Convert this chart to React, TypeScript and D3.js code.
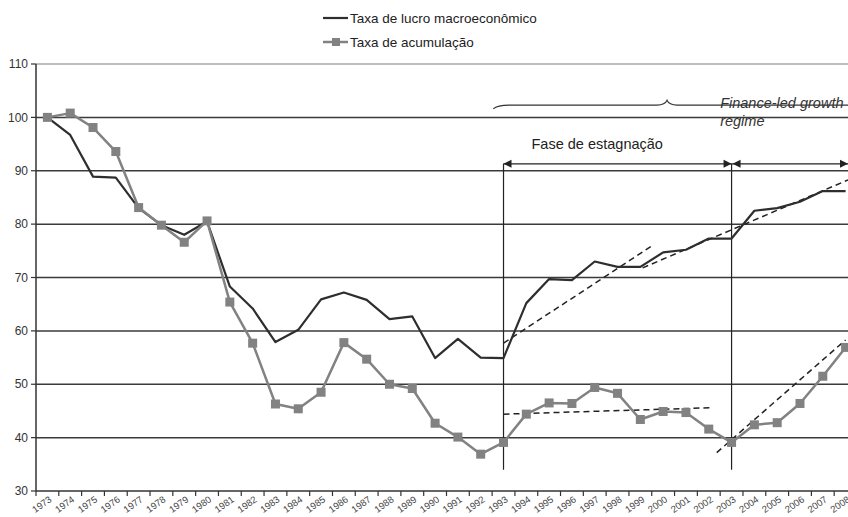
import * as React from 'react';
import { useEffect, useRef } from 'react';
import * as d3 from 'd3';

const years = [
  1973, 1974, 1975, 1976, 1977, 1978, 1979, 1980, 1981, 1982, 1983, 1984,
  1985, 1986, 1987, 1988, 1989, 1990, 1991, 1992, 1993, 1994, 1995, 1996,
  1997, 1998, 1999, 2000, 2001, 2002, 2003, 2004, 2005, 2006, 2007, 2008,
];

// Taxa de lucro macroeconômico (1973 = 100)
const profitRate = [
  100, 96.7, 88.9, 88.7, 83.0, 79.8, 78.0, 80.5, 68.3, 64.2, 57.9, 60.2,
  65.9, 67.2, 65.8, 62.2, 62.7, 54.9, 58.5, 55.0, 54.9, 65.2, 69.7, 69.5,
  73.0, 72.0, 72.0, 74.7, 75.2, 77.3, 77.3, 82.5, 83.0, 84.2, 86.2, 86.2,
];

// Taxa de acumulação (1973 = 100)
const accumRate = [
  100, 100.8, 98.1, 93.6, 83.1, 79.8, 76.6, 80.6, 65.4, 57.7, 46.3, 45.4,
  48.5, 57.8, 54.7, 50.0, 49.2, 42.7, 40.1, 36.9, 39.1, 44.4, 46.5, 46.4,
  49.4, 48.3, 43.4, 44.9, 44.7, 41.6, 39.1, 42.4, 42.8, 46.4, 51.5, 56.9,
];

const yTicks = [30, 40, 50, 60, 70, 80, 90, 100, 110];

const seriesNames = ['Taxa de lucro macroeconômico', 'Taxa de acumulação'];

// dashed trend segments: [fromYear, fromValue, toYear, toValue]
const trendLines = [
  [1993, 57.7, 1999.5, 75.9],
  [1999.1, 71.8, 2008.5, 89.0],
  [1993, 44.4, 2002.1, 45.6],
  [2002.35, 37.2, 2008.0, 58.3],
];

// phase markers
const phaseYears = [1993, 2003];
const phaseTop = 91.3;
const phaseBottom = 34;
const phaseLabel = 'Fase de estagnação';
const regimeLabel = ['Finance-led growth', 'regime'];

const W = 848;
const H = 517;
const FONT = '"Liberation Sans", Arial, sans-serif';
const DARK = '#2e2e2e';
const GRAY = '#828282';

export default function App() {
  const ref = useRef<SVGSVGElement>(null);

  useEffect(() => {
    document.body.style.margin = '0';
    const svg = d3.select(ref.current);
    svg.selectAll('*').remove();

    const left = 36;
    const x = d3.scaleBand<number>().domain(years).range([left, 857]).padding(0);
    const bw = x.bandwidth();
    const cx = (yr: number) => (x(yr) as number) + bw / 2;
    const xl = d3.scaleLinear().domain([1973, 2008]).range([cx(1973), cx(2008)]);
    const y = d3.scaleLinear().domain([30, 110]).range([491, 64]);

    // grid
    svg.append('g').selectAll('line')
      .data(yTicks.filter((t) => t > 30))
      .enter().append('line')
      .attr('x1', left).attr('x2', W)
      .attr('y1', (d) => y(d)).attr('y2', (d) => y(d))
      .attr('stroke', (d) => (d === 110 ? '#a8a8a8' : '#3a3a3a'))
      .attr('stroke-width', 1.5);

    // y axis
    const ya = svg.append('g').attr('font-family', FONT).attr('font-size', 12).attr('fill', '#333');
    ya.append('line').attr('x1', left).attr('x2', left).attr('y1', y(110)).attr('y2', y(30))
      .attr('stroke', '#333').attr('stroke-width', 1.5);
    yTicks.forEach((t) => {
      ya.append('line').attr('x1', left - 5).attr('x2', left).attr('y1', y(t)).attr('y2', y(t))
        .attr('stroke', '#333').attr('stroke-width', 1.2);
      ya.append('text').attr('x', 28).attr('y', y(t)).attr('dy', '0.35em')
        .attr('text-anchor', 'end').text(t);
    });

    // x axis
    const xa = svg.append('g').attr('font-family', FONT).attr('font-size', 9.5).attr('fill', '#444');
    xa.append('line').attr('x1', left).attr('x2', W).attr('y1', y(30)).attr('y2', y(30))
      .attr('stroke', '#333').attr('stroke-width', 1.5);
    years.forEach((yr) => {
      const bx = x(yr) as number;
      xa.append('line').attr('x1', bx).attr('x2', bx).attr('y1', y(30)).attr('y2', y(30) + 5)
        .attr('stroke', '#333').attr('stroke-width', 1.2);
      xa.append('text')
        .attr('transform', `translate(${cx(yr) + 5},${y(30) + 10}) rotate(-35)`)
        .attr('text-anchor', 'end')
        .text(yr);
    });

    // phase vertical lines
    phaseYears.forEach((yr) => {
      svg.append('line').attr('x1', cx(yr)).attr('x2', cx(yr))
        .attr('y1', y(phaseTop)).attr('y2', y(phaseBottom))
        .attr('stroke', '#222').attr('stroke-width', 1.2);
    });

    // trend lines
    svg.append('g').selectAll('line').data(trendLines).enter().append('line')
      .attr('x1', (d) => xl(d[0])).attr('y1', (d) => y(d[1]))
      .attr('x2', (d) => xl(d[2])).attr('y2', (d) => y(d[3]))
      .attr('stroke', '#222').attr('stroke-width', 1.5)
      .attr('stroke-dasharray', '6,4');

    // lines
    const line = d3.line<number>()
      .x((_, i) => cx(years[i]))
      .y((d) => y(d));

    svg.append('path').datum(profitRate).attr('d', line)
      .attr('fill', 'none').attr('stroke', DARK).attr('stroke-width', 2.2)
      .attr('stroke-linejoin', 'round');

    svg.append('path').datum(accumRate).attr('d', line)
      .attr('fill', 'none').attr('stroke', GRAY).attr('stroke-width', 2.5)
      .attr('stroke-linejoin', 'round');

    const ms = 9;
    svg.append('g').selectAll('rect').data(accumRate).enter().append('rect')
      .attr('x', (_, i) => cx(years[i]) - ms / 2)
      .attr('y', (d) => y(d) - ms / 2)
      .attr('width', ms).attr('height', ms)
      .attr('fill', GRAY);

    // arrows
    const ay = y(phaseTop);
    const arrow = (tip: number, dir: number) => {
      svg.append('path')
        .attr('d', `M${tip},${ay} L${tip - dir * 8},${ay - 4} L${tip - dir * 8},${ay + 4} Z`)
        .attr('fill', '#222');
    };
    const a0 = cx(phaseYears[0]);
    const a1 = cx(phaseYears[1]);
    svg.append('line').attr('x1', a0).attr('x2', a1).attr('y1', ay).attr('y2', ay)
      .attr('stroke', '#222').attr('stroke-width', 1.2);
    svg.append('line').attr('x1', a1).attr('x2', W).attr('y1', ay).attr('y2', ay)
      .attr('stroke', '#222').attr('stroke-width', 1.2);
    arrow(a0, -1);
    arrow(a1, 1);
    arrow(a1 + 1, -1);
    arrow(W, 1);

    svg.append('text').attr('x', a0 + 28).attr('y', y(94.1))
      .attr('font-family', FONT).attr('font-size', 14.5).attr('fill', '#222')
      .text(phaseLabel);

    // brace
    const bl = xl(1992.55);
    const bc = xl(2000.17);
    const by = y(102.3);
    const brace = `M${bl},${y(101.6)} Q${bl + 4},${by} ${bl + 16},${by} L${bc - 10},${by} Q${bc - 2},${by} ${bc},${y(103.2)} Q${bc + 2},${by} ${bc + 10},${by} L${W + 2},${by}`;
    svg.append('path').attr('d', brace).attr('fill', 'none')
      .attr('stroke', '#333').attr('stroke-width', 1.1);

    const rt = svg.append('text').attr('font-family', FONT).attr('font-size', 14.5)
      .attr('font-style', 'italic').attr('fill', '#333');
    rt.append('tspan').attr('x', xl(2002.5)).attr('y', y(101.8)).text(regimeLabel[0]);
    rt.append('tspan').attr('x', xl(2002.5)).attr('y', y(98.3)).text(regimeLabel[1]);

    // legend
    const lg = svg.append('g').attr('font-family', FONT).attr('font-size', 13.5).attr('fill', '#222');
    lg.append('line').attr('x1', 323).attr('x2', 348).attr('y1', 18).attr('y2', 18)
      .attr('stroke', DARK).attr('stroke-width', 2.2);
    lg.append('text').attr('x', 350).attr('y', 18).attr('dy', '0.35em').text(seriesNames[0]);
    lg.append('line').attr('x1', 323).attr('x2', 348).attr('y1', 42).attr('y2', 42)
      .attr('stroke', GRAY).attr('stroke-width', 2.5);
    lg.append('rect').attr('x', 332).attr('y', 38).attr('width', 8).attr('height', 8).attr('fill', GRAY);
    lg.append('text').attr('x', 350).attr('y', 42).attr('dy', '0.35em').text(seriesNames[1]);
  }, []);

  return (
    <svg
      ref={ref}
      width={W}
      height={H}
      style={{ position: 'absolute', left: 0, top: 0, background: '#fff' }}
    />
  );
}
